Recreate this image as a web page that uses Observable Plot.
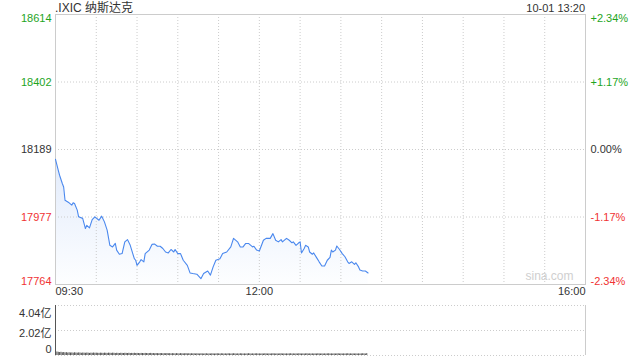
<!DOCTYPE html>
<html><head><meta charset="utf-8">
<script src="https://cdn.jsdelivr.net/npm/d3@7"></script>
<script src="https://cdn.jsdelivr.net/npm/@observablehq/plot@0.6"></script>
<style>
body{margin:0;background:#fff;font-family:"Liberation Sans",Arial,"Noto Sans CJK SC",sans-serif;}
#wrap{position:relative;width:640px;height:360px;overflow:hidden;background:#fff;}
.t{position:absolute;white-space:nowrap;color:#333;z-index:5;line-height:14px;}
#main,#vol{position:absolute;left:0;}
</style></head><body>
<div id="wrap">
<div id="main" style="top:0"></div>
<div id="vol" style="top:300px"></div>
<div class="t" id="title" style="left:55px;top:1px;font-size:12px;"></div>
<div class="t" id="stamp" style="right:55px;top:1px;font-size:11px;"></div>
</div>
<script>
const titleText = ".IXIC 纳斯达克";
const stampText = "10-01 13:20";
const prevClose = 18189.17;
// minutes after 09:30 and index level
const minutes = [0,2,3,5,6,7,10,12,13,14,16,17,20,22,23,25,27,29,32,34,36,38,40,42,44,45,47,49,51,53,55,58,59,60,62,63,65,66,69,71,73,75,77,79,81,83,85,87,88,90,92,94,97,99,101,104,107,109,112,114,116,118,121,123,126,129,131,134,136,138,140,142,145,146,148,150,153,155,158,160,162,164,166,167,170,172,174,175,177,179,180,181,183,184,186,187,189,190,192,194,196,198,200,202,203,204,206,207,209,211,213,215,216,218,220,221,223,224,226,228,230];
const prices = [18158,18124,18108,18082,18071,18029,18021,18014,18021,18019,17998,17977,17972,17940,17950,17942,17968,17977,17966,17979,17961,17935,17887,17882,17893,17872,17859,17861,17898,17905,17887,17845,17840,17824,17835,17842,17835,17861,17872,17890,17891,17884,17884,17877,17866,17863,17874,17866,17874,17861,17861,17840,17824,17800,17798,17796,17782,17798,17806,17793,17819,17840,17845,17861,17866,17882,17909,17898,17882,17882,17893,17893,17882,17884,17872,17869,17903,17909,17909,17924,17903,17898,17905,17898,17909,17903,17895,17898,17887,17895,17898,17863,17877,17887,17882,17866,17859,17863,17849,17835,17822,17822,17840,17849,17872,17866,17872,17885,17874,17861,17851,17835,17830,17835,17827,17832,17819,17809,17806,17806,17800];
const pctTicks = [2.34, 1.17, 0, -1.17, -2.34];
const leftLabels = ["18614", "18402", "18189", "17977", "17764"];
const rightLabels = ["+2.34%", "+1.17%", "0.00%", "-1.17%", "-2.34%"];
const timeTicks = [0, 150, 390];
const timeLabels = ["09:30", "12:00", "16:00"];
const volTicks = [4.04, 2.02, 0];
const volLabels = ["4.04亿", "2.02亿", "0"];
// per-minute volume, 亿
const volumes = [
.34,.28,.26,.24,.26,.22,.24,.21,.23,.20,
.22,.20,.21,.19,.22,.20,.19,.21,.20,.18,
.20,.19,.18,.20,.19,.17,.19,.18,.20,.18,
.19,.18,.17,.19,.18,.17,.19,.18,.17,.19,
.18,.17,.19,.18,.16,.18,.17,.16,.18,.17,
.16,.18,.17,.16,.18,.16,.17,.16,.18,.16,
.17,.16,.15,.17,.16,.15,.17,.16,.15,.16,
.17,.15,.16,.14,.16,.15,.14,.16,.15,.14,
.15,.14,.16,.14,.15,.13,.15,.14,.13,.15,
.14,.13,.15,.14,.13,.14,.15,.13,.14,.13,
.14,.13,.14,.12,.14,.13,.12,.14,.13,.12,
.13,.14,.12,.13,.12,.14,.13,.12,.13,.14,
.13,.12,.14,.13,.12,.13,.12,.14,.13,.12,
.13,.14,.13,.12,.13,.12,.14,.13,.12,.13,
.12,.13,.14,.13,.12,.13,.12,.13,.14,.12,
.13,.12,.13,.12,.14,.13,.12,.13,.12,.13,
.14,.13,.12,.13,.12,.13,.14,.12,.13,.12,
.13,.12,.13,.14,.12,.13,.12,.13,.12,.14,
.13,.12,.13,.12,.13,.14,.12,.13,.12,.13,
.12,.13,.12,.14,.13,.12,.13,.12,.13,.12,
.13,.14,.12,.13,.12,.13,.12,.13,.14,.12,
.13,.12,.13,.12,.13,.14,.12,.13,.12,.13,
.12,.13,.12,.13,.12,.13,.14,.13,.12,.15];

const GREEN = "#1ea51e", RED = "#f03333", DARK = "#333333", LINE = "#4a88ee", GRID = "#cccccc";
const FONT = "Liberation Sans, Arial, Noto Sans CJK SC, sans-serif";

document.getElementById("title").textContent = titleText;
document.getElementById("stamp").textContent = stampText;

const yDomain = [prevClose * (1 + pctTicks[4] / 100), prevClose * (1 + pctTicks[0] / 100)];
const series = minutes.map((m, i) => ({m, p: prices[i]}));
const rows = pctTicks.map((p, i) => ({v: prevClose * (1 + p / 100), left: leftLabels[i], right: rightLabels[i], color: p > 0 ? GREEN : p < 0 ? RED : DARK}));
const vgrid = d3.range(30, 390, 30);

const defs = () => {
  const d = d3.create("svg:defs");
  const g = d.append("linearGradient").attr("id", "fillGrad").attr("x1", 0).attr("y1", 0).attr("x2", 0).attr("y2", 1);
  g.append("stop").attr("offset", "0%").attr("stop-color", "#e2ebfb");
  g.append("stop").attr("offset", "100%").attr("stop-color", "#fdfeff");
  return d.node();
};

function yLabelMarks(list, opts) {
  return [
    Plot.text([list[0]], {...opts, lineAnchor: "top"}),
    Plot.text(list.slice(1, list.length - 1), {...opts, lineAnchor: "middle"}),
    Plot.text([list[list.length - 1]], {...opts, lineAnchor: "bottom"})
  ];
}

const anchors = ["start", "middle", "end"];
const timeRows = timeTicks.map((m, i) => ({m, label: timeLabels[i], anchor: anchors[i]}));

const main = Plot.plot({
  width: 640, height: 300,
  marginTop: 14, marginBottom: 16, marginLeft: 55, marginRight: 55,
  style: {fontFamily: FONT, fontSize: "11px", background: "transparent"},
  x: {domain: [0, 390], axis: null},
  y: {domain: yDomain, axis: null},
  color: {type: "identity"},
  marks: [
    defs,
    Plot.areaY(series, {x: "m", y1: () => yDomain[0], y2: "p", fill: "url(#fillGrad)"}),
    Plot.ruleX(vgrid, {stroke: GRID, strokeDasharray: "1,2"}),
    Plot.ruleY(rows.slice(1, 4), {y: "v", stroke: GRID, strokeDasharray: "1,2"}),
    Plot.frame({stroke: GRID}),
    Plot.lineY(series, {x: "m", y: "p", stroke: LINE, strokeWidth: 1.1}),
    ...yLabelMarks(rows, {y: "v", text: "left", fill: "color", frameAnchor: "left", textAnchor: "end", dx: -4, fontSize: 11}),
    ...yLabelMarks(rows, {y: "v", text: "right", fill: "color", frameAnchor: "right", textAnchor: "start", dx: 5, fontSize: 11}),
    ...timeRows.map(r => Plot.text([r], {x: "m", text: "label", frameAnchor: "bottom", lineAnchor: "top", dy: 3, textAnchor: r.anchor, fill: DARK, fontSize: 11})),
    Plot.text(["sina.com"], {frameAnchor: "bottom-right", text: d => d, dx: -12, dy: -5, fill: "#cfcfcf", fontSize: 12, textAnchor: "end"})
  ]
});
document.getElementById("main").append(main);

const volData = volumes.map((v, i) => ({m: i, v}));
const volRows = volTicks.map((v, i) => ({v, label: volLabels[i]}));
const vol = Plot.plot({
  width: 640, height: 60,
  marginTop: 5, marginBottom: 5, marginLeft: 55, marginRight: 55,
  style: {fontFamily: FONT, fontSize: "11px", background: "transparent"},
  x: {domain: [0, 390], axis: null},
  y: {domain: [0, volTicks[0]], axis: null},
  marks: [
    Plot.ruleY(volTicks, {stroke: GRID, strokeDasharray: "1,2"}),
    Plot.ruleX([390], {stroke: GRID}),
    Plot.rectY(volData, {x1: "m", x2: d => d.m + 1, y: "v", fill: "#555", insetRight: 0.3}),
    Plot.ruleX([0], {stroke: "#555"}),
    Plot.text([volRows[0]], {y: "v", text: "label", frameAnchor: "left", textAnchor: "end", dx: -4, dy: 8, fill: DARK, fontSize: 11}),
    Plot.text([volRows[1]], {y: "v", text: "label", frameAnchor: "left", textAnchor: "end", dx: -4, dy: 3, fill: DARK, fontSize: 11}),
    Plot.text([volRows[2]], {y: "v", text: "label", frameAnchor: "left", textAnchor: "end", dx: -4, dy: -6, fill: DARK, fontSize: 11})
  ]
});
document.getElementById("vol").append(vol);
</script>
</body></html>
